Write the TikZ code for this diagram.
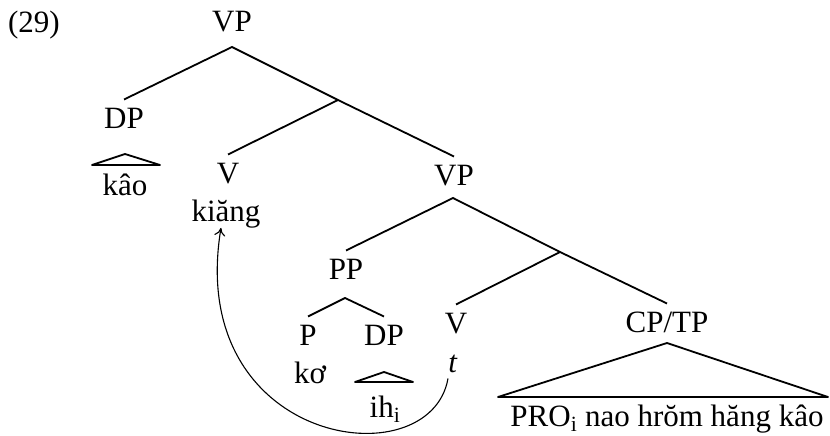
\documentclass[tikz,border=0pt]{standalone}
\usepackage{fontspec}
\setmainfont{Liberation Serif}
\usetikzlibrary{arrows.meta,calc}
\begin{document}
\begin{tikzpicture}[x=1pt,y=-1pt,
  lab/.style={anchor=base, inner sep=0pt, font=\fontsize{31}{36}\selectfont},
  cat/.style={lab, text height=20.3pt, text depth=0pt, inner ysep=8pt},
  br/.style={line width=1.8pt},
  tri/.style={line width=1.8pt, line join=round},
  mv/.style={line width=1.1pt, -{To[length=8pt,width=11pt]}}]
\useasboundingbox (0,0) rectangle (830,436);
% labels
\node[lab] (num) at (34,33) {(29)};
\node[cat] (VP) at (232,32) {VP};
\node[cat] (DP) at (124,128) {DP};
\node[lab] (kao) at (125,195) {kâo};
\node[cat] (V) at (228,183) {V};
\node[lab] (kiang) at (226,221) {kiăng};
\node[cat] (VPb) at (454,185) {VP};
\node[cat] (PP) at (346,279) {PP};
\node[cat] (P) at (308,345) {P};
\node[cat] (DPb) at (384,345) {DP};
\node[cat] (Vb) at (456,333) {V};
\node[cat] (CPTP) at (667,332) {CP/TP};
\node[lab] (ko) at (310,383) {kơ};
\node[lab] (t) at (453,372) {\textit{t}};
\node[lab] (ih) at (385,417) {ih\textsubscript{i}};
\node[lab] (pro) at (667,426) {PRO\textsubscript{i} nao hrŏm hăng kâo};
% apex and junction points
\coordinate (vpA) at (232,47);
\coordinate (j1) at (338,100);
\coordinate (vpbA) at (453,198);
\coordinate (j2) at (560,252);
\coordinate (ppA) at (345,298);
% branches
\draw[br] (DP.north) -- (vpA) -- (j1) -- (VPb.north);
\draw[br] (j1) -- (V.north);
\draw[br] (PP.north) -- (vpbA) -- (j2) -- (CPTP.north);
\draw[br] (j2) -- (Vb.north);
\draw[br] (P.north) -- (ppA) -- (DPb.north);
% triangles
\draw[tri] (125,154) -- (160,165) -- (92,165) -- cycle;
\draw[tri] (384,372) -- (413,382) -- (355,382) -- cycle;
\draw[tri] (667,343) -- (828,397) -- (498,397) -- cycle;
% movement arrow
\draw[mv] ([xshift=-5pt,yshift=-6pt]t.south) .. controls +(-18,102) and +(-36,218) .. ([xshift=-5pt]kiang.south);
\end{tikzpicture}
\end{document}
